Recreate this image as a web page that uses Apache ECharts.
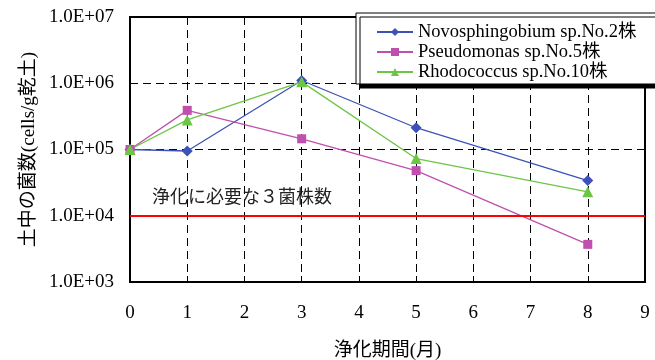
<!DOCTYPE html>
<html><head><meta charset="utf-8">
<script src="https://cdn.jsdelivr.net/npm/echarts@6/dist/echarts.min.js"></script>
<style>html,body{margin:0;padding:0;background:#fff}#c{width:655px;height:360px}</style>
</head><body><div id="c"></div>
<script>
var months = [0, 1, 3, 5, 8];
var novoName = 'Novosphingobium sp.No.2株';
var pseudoName = 'Pseudomonas sp.No.5株';
var rhodoName = 'Rhodococcus sp.No.10株';
var novoValues = [100000, 95000, 1100000, 213000, 34000];
var pseudoValues = [100000, 390000, 145000, 48000, 3700];
var rhodoValues = [100000, 280000, 1050000, 73000, 23000];
var thresholdValue = 10000;
var thresholdLabel = '浄化に必要な３菌株数';
var xName = '浄化期間(月)';
var yName = '土中の菌数(cells/g乾土)';

var serif = 'Liberation Serif, Noto Sans CJK JP, serif';
var cjk = 'Liberation Serif, Noto Sans CJK JP, sans-serif';

function pairs(vals){ return months.map(function(m,i){ return [m, vals[i]]; }); }

var chart = echarts.init(document.getElementById('c'), null, {renderer:'canvas'});
chart.setOption({
  animation: false,
  backgroundColor: '#fff',
  grid: {left: 130, right: 10, top: 17, bottom: 78, show: true, borderColor: '#000', borderWidth: 2,
    backgroundColor: 'transparent', outerBoundsMode: 'none', containLabel: false},
  legend: {
    orient: 'vertical', left: 356, top: 13,
    data: [novoName, pseudoName, rhodoName],
    backgroundColor: '#fff', borderColor: '#000', borderWidth: 1,
    shadowColor: '#000', shadowOffsetX: 4, shadowOffsetY: 4, shadowBlur: 0,
    padding: [9, 22, 2, 20], itemGap: 0, itemWidth: 36, itemHeight: 10,
    textStyle: {fontFamily: serif, fontSize: 18.5, color: '#000', lineHeight: 20}
  },
  xAxis: {
    type: 'value', min: 0, max: 9, interval: 1,
    name: xName, nameLocation: 'middle', nameGap: 60,
    nameTextStyle: {fontFamily: cjk, fontSize: 19, color: '#000'},
    axisLine: {show: true, lineStyle: {color: '#000', width: 2}},
    axisTick: {show: true, inside: true, length: 6, lineStyle: {color: '#000', width: 1}},
    axisLabel: {fontFamily: serif, fontSize: 19, color: '#000', margin: 22},
    splitLine: {show: true, lineStyle: {color: '#000', width: 1, type: [8, 5]}}
  },
  yAxis: {
    type: 'log', logBase: 10, min: 1000, max: 10000000,
    name: yName, nameLocation: 'middle', nameGap: 90,
    nameTextStyle: {fontFamily: cjk, fontSize: 19, color: '#000'},
    axisLine: {show: true, lineStyle: {color: '#000', width: 2}},
    axisTick: {show: true, inside: true, length: 6, lineStyle: {color: '#000', width: 1}},
    axisLabel: {fontFamily: serif, fontSize: 19, color: '#000', margin: 16,
      formatter: function(v){ var e = Math.round(Math.log10(v)); return '1.0E+' + (e < 10 ? '0' : '') + e; }},
    splitLine: {show: true, lineStyle: {color: '#000', width: 1, type: [8, 5]}}
  },
  series: [
    {name: 'threshold', type: 'line', data: [], silent: true,
     markLine: {silent: true, symbol: 'none', animation: false,
       lineStyle: {color: '#ff0000', width: 2, type: 'solid'},
       label: {show: true, position: 'insideStartTop', formatter: thresholdLabel,
         fontFamily: cjk, fontSize: 18, color: '#222', distance: [22, 8]},
       data: [{yAxis: thresholdValue}]}},
    {name: novoName, type: 'line', data: pairs(novoValues), symbol: 'diamond', symbolSize: 11,
     lineStyle: {color: '#3D52B8', width: 1.3}, itemStyle: {color: '#3D52B8'}},
    {name: pseudoName, type: 'line', data: pairs(pseudoValues), symbol: 'rect', symbolSize: 9,
     lineStyle: {color: '#C050AE', width: 1.3}, itemStyle: {color: '#C050AE'}},
    {name: rhodoName, type: 'line', data: pairs(rhodoValues), symbol: 'triangle', symbolSize: 11,
     lineStyle: {color: '#6CC644', width: 1.3}, itemStyle: {color: '#6CC644'}}
  ]
});
</script></body></html>
